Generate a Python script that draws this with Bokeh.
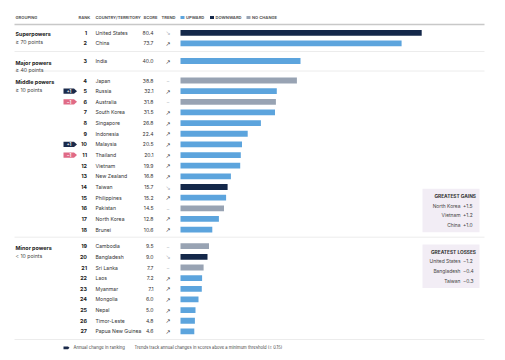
from bokeh.plotting import figure
from bokeh.models import Range1d, ColumnDataSource
from bokeh.core.properties import value
from bokeh.embed import file_html
from bokeh.resources import INLINE

# ---------------- data ----------------
countries = ["United States", "China", "India", "Japan", "Russia", "Australia",
             "South Korea", "Singapore", "Indonesia", "Malaysia", "Thailand",
             "Vietnam", "New Zealand", "Taiwan", "Philippines", "Pakistan",
             "North Korea", "Brunei", "Cambodia", "Bangladesh", "Sri Lanka",
             "Laos", "Myanmar", "Mongolia", "Nepal", "Timor-Leste",
             "Papua New Guinea"]
scores = [80.4, 73.7, 40.0, 38.8, 32.1, 31.8, 31.5, 26.8, 22.4, 20.5, 20.1,
          19.9, 16.8, 15.7, 15.2, 14.5, 12.8, 10.6, 9.5, 9.0, 7.7, 7.2, 7.1,
          6.0, 5.0, 4.8, 4.6]
trends = ["down", "up", "up", "none", "up", "none", "up", "up", "up", "up",
          "up", "up", "up", "down", "up", "none", "up", "up", "none", "down",
          "none", "up", "up", "up", "up", "up", "up"]
rank_change = {"Russia": "+1", "Australia": "\u22121", "Malaysia": "+1",
               "Thailand": "\u22121"}
group_names = ["Superpowers", "Major powers", "Middle powers", "Minor powers"]
group_subs = ["\u2265 70 points", "\u2265 40 points", "\u2265 10 points",
              "< 10 points"]
group_sizes = [2, 1, 15, 9]
gains_names = ["North Korea", "Vietnam", "China"]
gains_vals = ["+1.5", "+1.2", "+1.0"]
loss_names = ["United States", "Bangladesh", "Taiwan"]
loss_vals = ["\u22121.2", "\u22120.4", "\u22120.3"]
header_cols = ["RANK", "COUNTRY/TERRITORY", "SCORE", "TREND"]
legend_labels = ["UPWARD", "DOWNWARD", "NO CHANGE"]
footer_badge = "Annual change in ranking"
footer_note = "Trends track annual changes in scores above a minimum threshold (\u2265 0.15)"

# ---------------- styles / layout ----------------
C_UP = "#5ca4dd"
C_DOWN = "#14284a"
C_NONE = "#98a3b3"
C_PLUS = "#1b2a4a"
C_MINUS = "#e06a86"
BOX = "#f2edf5"
TXT = "#333333"
FONT = value("Inter")
tcolor = {"up": C_UP, "down": C_DOWN, "none": C_NONE}
tglyph = {"up": "\u2197", "down": "\u2198", "none": "\u2013"}

X0, K = 180.0, 3.0
STEP = 10.65
group_start = [32.3, 60.5, 80.0, 245.7]
sep_y = [51.0, 70.5, 236.7, 339.0]
LX, RX = 14, 484
ROWFS = "5.1px"

ys = []
for s0, n in zip(group_start, group_sizes):
    ys += [s0 + i * STEP for i in range(n)]

p = figure(width=497, height=352, output_backend="svg", toolbar_location=None,
           x_range=Range1d(0, 497), y_range=Range1d(352, 0),
           min_border=0, outline_line_color=None)
p.axis.visible = False
p.grid.visible = False
p.background_fill_color = "white"

# separators
p.segment(x0=[LX], x1=[RX], y0=[24], y1=[24], line_color="#c8c8c8", line_width=1.5)
p.segment(x0=[LX] * len(sep_y), x1=[RX] * len(sep_y), y0=sep_y, y1=sep_y,
          line_color="#ececec", line_width=1)

# header
HFS = "4.1px"
p.text(x=[15], y=[17], text=["GROUPING"], text_font=FONT, text_font_size=HFS,
       text_color="#555555", text_baseline="middle", text_font_style="bold")
hx = [78, 95, 143, 161]
p.text(x=hx, y=[17] * 4, text=header_cols, text_font=FONT, text_font_size=HFS,
       text_color="#555555", text_baseline="middle", text_font_style="bold")
lgx = [180, 209.5, 246]
p.rect(x=[x + 2 for x in lgx], y=[17] * 3, width=4, height=3,
       fill_color=[C_UP, C_DOWN, C_NONE], line_color=None)
p.text(x=[x + 5.5 for x in lgx], y=[17] * 3, text=legend_labels, text_font=FONT,
       text_font_size=HFS, text_color="#555555", text_baseline="middle",
       text_font_style="bold")

# group labels
gy = group_start
p.text(x=[15] * 4, y=[g + 1.5 for g in gy], text=group_names, text_font=FONT,
       text_font_size="5.4px", text_color="#222222", text_font_style="bold",
       text_baseline="middle")
p.text(x=[15] * 4, y=[g + 9.3 for g in gy], text=group_subs, text_font=FONT,
       text_font_size="5.2px", text_color="#444444", text_baseline="middle")

# bars
src = ColumnDataSource(dict(
    y=ys,
    left=[X0] * len(scores),
    right=[X0 + K * s for s in scores],
    color=[tcolor[t] for t in trends],
))
p.hbar(y="y", left="left", right="right", height=5.8, fill_color="color",
       line_color=None, source=src)

# row texts
p.text(x=[86.5] * len(ys), y=ys, text=[str(i + 1) for i in range(len(ys))],
       text_font=FONT, text_font_size="5.4px", text_color="#222222",
       text_font_style="bold", text_align="right", text_baseline="middle")
p.text(x=[95] * len(ys), y=ys, text=countries, text_font=FONT,
       text_font_size=ROWFS, text_color=TXT, text_baseline="middle")
p.text(x=[153] * len(ys), y=ys, text=[f"{s:.1f}" for s in scores], text_font=FONT,
       text_font_size=ROWFS, text_color=TXT, text_align="right",
       text_baseline="middle")
p.text(x=[167.5] * len(ys), y=ys, text=[tglyph[t] for t in trends],
       text_font=value("DejaVu Sans"), text_font_size="6px",
       text_color=["#aab0ba" if t != "up" else "#222222" for t in trends],
       text_align="center", text_baseline="middle")

# rank change badges
bx, by, bt, bc = [], [], [], []
for c, ch in rank_change.items():
    i = countries.index(c)
    y = ys[i]
    bx.append([63, 73.5, 76.5, 73.5, 63])
    by.append([y - 2.6, y - 2.6, y, y + 2.6, y + 2.6])
    bt.append(ch)
    bc.append(C_PLUS if ch.startswith("+") else C_MINUS)
p.patches(xs=bx, ys=by, fill_color=bc, line_color=None)
p.text(x=[68.5] * len(bt), y=[b[2] for b in by], text=bt, text_font=FONT,
       text_font_size="4.2px", text_color="white", text_align="center",
       text_baseline="middle", text_font_style="bold")

# gains / losses boxes
for top, title, names, vals in [(188.3, "GREATEST GAINS", gains_names, gains_vals),
                                (244.0, "GREATEST LOSSES", loss_names, loss_vals)]:
    p.quad(left=[422], right=[479], top=[top], bottom=[top + 43.5],
           fill_color=BOX, line_color=None)
    p.text(x=[475.5], y=[top + 7.3], text=[title], text_font=FONT,
           text_font_size="4.8px", text_color="#333333", text_font_style="bold",
           text_align="right", text_baseline="middle")
    ry = [top + 16.8 + i * 9.6 for i in range(3)]
    p.text(x=[460] * 3, y=ry, text=names, text_font=FONT, text_font_size="4.9px",
           text_color="#444444", text_align="right", text_baseline="middle")
    p.text(x=[462.5] * 3, y=ry, text=vals, text_font=FONT, text_font_size="4.9px",
           text_color="#444444", text_baseline="middle")

# footer
fy = 347.3
p.patches(xs=[[63, 67.5, 69, 67.5, 63]], ys=[[fy - 1.4, fy - 1.4, fy, fy + 1.4, fy + 1.4]],
          fill_color=C_PLUS, line_color=None)
p.text(x=[73], y=[fy], text=[footer_badge], text_font=FONT, text_font_size="4.3px",
       text_color="#444444", text_baseline="middle")
p.text(x=[134], y=[fy], text=[footer_note], text_font=FONT, text_font_size="4.2px",
       text_color="#444444", text_baseline="middle")

open("out.html", "w").write(file_html(p, INLINE))
